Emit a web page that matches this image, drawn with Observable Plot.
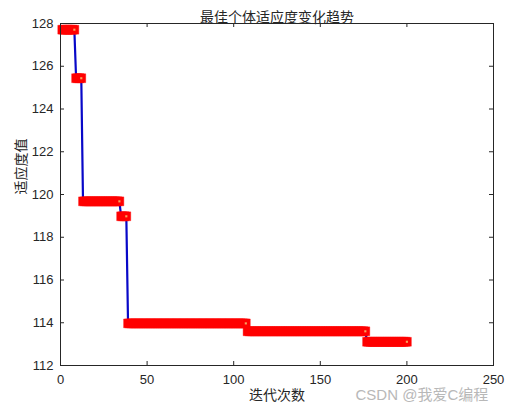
<!DOCTYPE html>
<html>
<head>
<meta charset="utf-8">
<script src="https://cdn.jsdelivr.net/npm/d3@7"></script>
<script src="https://cdn.jsdelivr.net/npm/@observablehq/plot@0.6"></script>
<style>
  html, body { margin: 0; padding: 0; background: #fff; }
  #chart svg { display: block; }
</style>
</head>
<body>
<div id="chart"></div>
<script>
// Step data: each segment is a run of iterations with the same best fitness
const segStarts = [1, 9, 13, 35, 39, 108, 177];
const segEnds   = [8, 12, 34, 38, 107, 176, 200];
const segValues = [127.71, 125.44, 119.68, 118.98, 113.97, 113.60, 113.11];

const xTicks = [0, 50, 100, 150, 200, 250];
const yTicks = [112, 114, 116, 118, 120, 122, 124, 126, 128];

const titleText = "最佳个体适应度变化趋势";
const xLabelText = "迭代次数";
const yLabelText = "适应度值";
const watermarkText = "CSDN @我爱C编程";

// expand segments into one row per iteration
const rows = [];
segStarts.forEach((s, i) => {
  for (let it = s; it <= segEnds[i]; it++) rows.push({iter: it, fit: segValues[i]});
});
const lastPoints = segEnds.map((e, i) => ({iter: e, fit: segValues[i]}));

const W = 527, H = 410;
const mt = 23, mb = 45, ml = 60, mr = 34;
const innerW = W - ml - mr, innerH = H - mt - mb;
const tick = 4;
const ink = "#262626";
const numFont = "'Liberation Sans', Arial, sans-serif";
const cjkFont = "'Noto Sans CJK SC', sans-serif";

const chart = Plot.plot({
  width: W, height: H,
  marginTop: mt, marginBottom: mb, marginLeft: ml, marginRight: mr,
  style: {fontFamily: numFont, fontSize: "13px", color: ink, background: "#fff"},
  x: {domain: [0, 250]},
  y: {domain: [112, 128]},
  marks: [
    // watermark
    Plot.text([watermarkText], {frameAnchor: "bottom-right", dx: -138, dy: 34, textAnchor: "start",
      fill: "#b8b8b8", fontSize: 15, fontFamily: "'Liberation Sans', 'Noto Sans CJK SC', sans-serif"}),
    // series
    Plot.line(rows, {x: "iter", y: "fit", stroke: "#0808c8", strokeWidth: 2.2}),
    Plot.dot(rows, {x: "iter", y: "fit", symbol: "square", r: 5.0, fill: "#ff0000", stroke: "#ff0000", strokeWidth: 0.4}),
    Plot.dot(lastPoints, {x: "iter", y: "fit", symbol: "square", r: 1.2, fill: "#f6a35e", stroke: "none"}),
    // inward ticks
    Plot.tickX(xTicks, {x: d => d, insetTop: innerH - tick, stroke: ink, strokeWidth: 1}),
    Plot.tickX(xTicks, {x: d => d, insetBottom: innerH - tick, stroke: ink, strokeWidth: 1}),
    Plot.tickY(yTicks, {y: d => d, insetRight: innerW - tick, stroke: ink, strokeWidth: 1}),
    Plot.tickY(yTicks, {y: d => d, insetLeft: innerW - tick, stroke: ink, strokeWidth: 1}),
    Plot.frame({stroke: ink, strokeWidth: 1}),
    // axes (labels only)
    Plot.axisX({ticks: xTicks, tickSize: 0, tickPadding: 9, label: null, fontSize: 13, fill: ink}),
    Plot.axisY({ticks: yTicks, tickSize: 0, tickPadding: 7, label: null, fontSize: 13, fill: ink}),
    // title and axis labels
    Plot.text([titleText], {frameAnchor: "top", dy: -11, fontSize: 14, fontFamily: cjkFont, fill: ink}),
    Plot.text([xLabelText], {frameAnchor: "bottom", dy: 34, fontSize: 14, fontFamily: cjkFont, fill: ink}),
    Plot.text([yLabelText], {frameAnchor: "left", dx: -39, rotate: -90, fontSize: 14, fontFamily: cjkFont, fill: ink})
  ]
});
document.getElementById("chart").appendChild(chart);
</script>
</body>
</html>
